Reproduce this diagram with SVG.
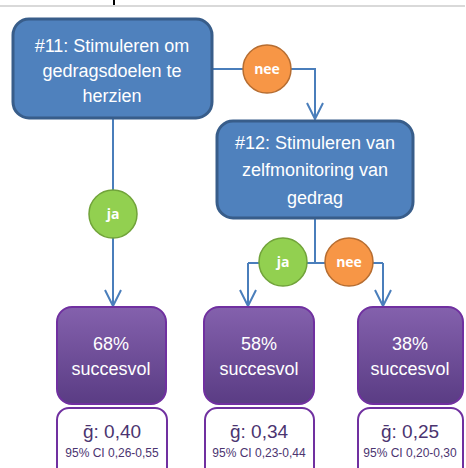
<svg xmlns="http://www.w3.org/2000/svg" width="466" height="468" viewBox="0 0 466 468">
<defs>
<linearGradient id="pg" x1="0" y1="0" x2="0" y2="1">
<stop offset="0" stop-color="#8461ad"/>
<stop offset="1" stop-color="#5a3c84"/>
</linearGradient>
<marker id="arr" viewBox="0 0 20 20" refX="18" refY="10" markerWidth="20" markerHeight="20" markerUnits="userSpaceOnUse" orient="auto">
<path d="M2 2 L18 10 L2 18" fill="none" stroke="#4a7ebb" stroke-width="2"/>
</marker>
<style>
.q{fill:#4f81bd;stroke:#385d8a;stroke-width:3}
.qt{font-family:"Liberation Sans",Arial,sans-serif;font-size:18px;fill:#ffffff;text-anchor:middle}
.c{stroke-width:1.5}
.ja{fill:#92d050;stroke:#71a33a}
.nee{fill:#f79646;stroke:#b66d31}
.ct{font-family:"Open Sans","Liberation Sans",sans-serif;font-weight:bold;font-size:14px;fill:#ffffff;text-anchor:middle}
.r{fill:url(#pg);stroke:#7030a0;stroke-width:2}
.rt{font-family:"Liberation Sans",Arial,sans-serif;font-size:18px;fill:#ffffff;text-anchor:middle}
.w{fill:#ffffff;stroke:#7030a0;stroke-width:2}
.gt{font-family:"Liberation Sans",Arial,sans-serif;font-size:19px;fill:#4b3470;text-anchor:middle}
.ci{font-family:"Liberation Sans",Arial,sans-serif;font-size:12px;fill:#4b3470;text-anchor:middle}
.ln{fill:none;stroke:#4a7ebb;stroke-width:2}
</style>
</defs>
<rect x="0" y="5" width="465" height="2" fill="#d9d9d9"/>
<rect x="113" y="0" width="2" height="5" fill="#000000"/>
<g id="connectors">
<path class="ln" d="M212 69 H315 V119" marker-end="url(#arr)"/>
<path class="ln" d="M113 118 V306" marker-end="url(#arr)"/>
<path class="ln" d="M315 218 V263 M248 263 H383"/>
<path class="ln" d="M248 263 V306" marker-end="url(#arr)"/>
<path class="ln" d="M383 263 V306" marker-end="url(#arr)"/>
</g>
<g id="node11">
<rect class="q" x="13" y="19" width="199" height="99" rx="16"/>
<text class="qt" x="112" y="52">#11: Stimuleren om</text>
<text class="qt" x="112" y="77">gedragsdoelen te</text>
<text class="qt" x="112" y="102">herzien</text>
</g>
<g id="node12">
<rect class="q" x="217" y="121" width="196" height="97" rx="16"/>
<text class="qt" x="315" y="149">#12: Stimuleren van</text>
<text class="qt" x="315" y="176">zelfmonitoring van</text>
<text class="qt" x="315" y="204">gedrag</text>
</g>
<g id="nee1">
<circle class="nee c" cx="267" cy="69" r="24"/>
<text class="ct" x="267" y="74">nee</text>
</g>
<g id="ja1">
<circle class="ja c" cx="113" cy="214" r="24"/>
<text class="ct" x="113" y="219">ja</text>
</g>
<g id="ja2">
<circle class="ja c" cx="283" cy="262" r="24"/>
<text class="ct" x="283" y="267">ja</text>
</g>
<g id="nee2">
<circle class="nee c" cx="349" cy="262" r="24"/>
<text class="ct" x="349" y="267">nee</text>
</g>
<g id="res1">
<rect class="r" x="57" y="307" width="109" height="97" rx="15"/>
<text class="rt" x="111" y="350">68%</text>
<text class="rt" x="111" y="375">succesvol</text>
</g>
<g id="res2">
<rect class="r" x="204" y="307" width="110" height="97" rx="15"/>
<text class="rt" x="259" y="350">58%</text>
<text class="rt" x="259" y="375">succesvol</text>
</g>
<g id="res3">
<rect class="r" x="358" y="307" width="105" height="97" rx="15"/>
<text class="rt" x="410" y="350">38%</text>
<text class="rt" x="410" y="375">succesvol</text>
</g>
<g id="es1">
<rect class="w" x="57" y="408" width="110" height="80" rx="12"/>
<text class="gt" x="112" y="438">ḡ: 0,40</text>
<text class="ci" x="112" y="457">95% CI 0,26-0,55</text>
</g>
<g id="es2">
<rect class="w" x="205" y="408" width="109" height="80" rx="12"/>
<text class="gt" x="259" y="438">ḡ: 0,34</text>
<text class="ci" x="259" y="457">95% CI 0,23-0,44</text>
</g>
<g id="es3">
<rect class="w" x="358" y="408" width="105" height="80" rx="12"/>
<text class="gt" x="410" y="438">ḡ: 0,25</text>
<text class="ci" x="410" y="457">95% CI 0,20-0,30</text>
</g>
</svg>
